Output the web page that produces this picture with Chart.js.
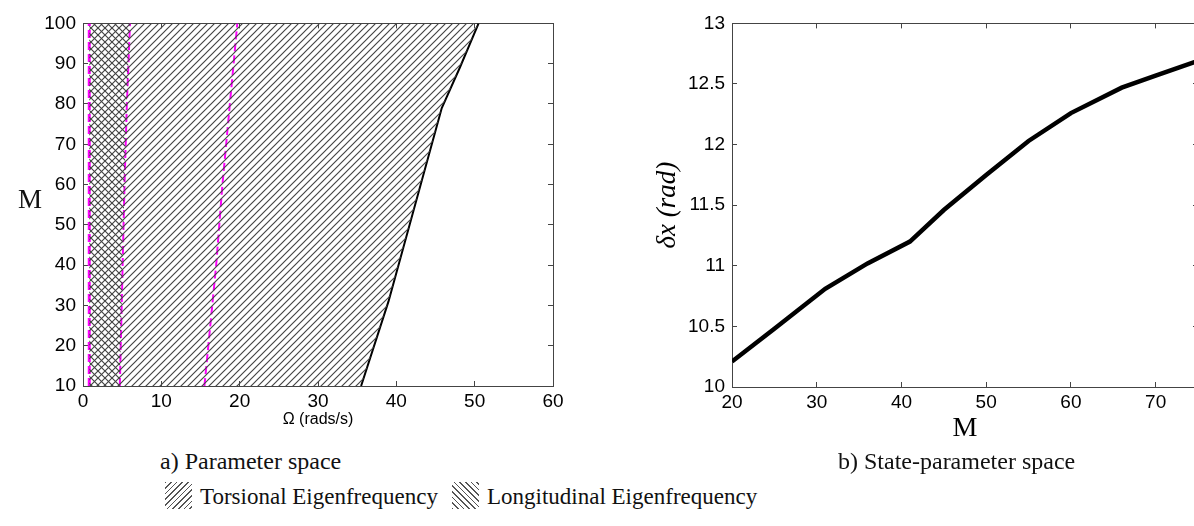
<!DOCTYPE html>
<html>
<head>
<meta charset="utf-8">
<script src="https://cdn.jsdelivr.net/npm/chart.js@4/dist/chart.umd.min.js"></script>
<style>
  html, body { margin: 0; padding: 0; background: #fff; }
  body { width: 1194px; height: 526px; overflow: hidden; position: relative; }
  canvas { position: absolute; top: 0; }
  #chartA { left: 0; }
  #chartB { left: 600px; }
  .txt { position: absolute; white-space: nowrap; color: #111; font-family: "Liberation Serif", "DejaVu Serif", serif; line-height: 1; }
  .swatch { position: absolute; width: 27px; height: 27px; }
  .tors { background: repeating-linear-gradient(135deg, #555 0 1px, #fff 1px 4px); }
  .long { background: repeating-linear-gradient(45deg, #555 0 1px, #fff 1px 4px); }
</style>
</head>
<body>
<canvas id="chartA" width="575" height="440"></canvas>
<canvas id="chartB" width="612" height="450"></canvas>

<div class="txt" style="left:18px; top:186px; font-size:27px;">M</div>
<div class="txt" style="left:160px; top:449px; font-size:24px;">a) Parameter space</div>
<div class="txt" style="left:838px; top:449px; font-size:24px;">b) State-parameter space</div>
<div class="swatch tors" style="left:165px; top:482px;"></div>
<div class="txt" style="left:200px; top:485px; font-size:23px;">Torsional Eigenfrequency</div>
<div class="swatch long" style="left:452px; top:482px;"></div>
<div class="txt" style="left:487px; top:485px; font-size:23px;">Longitudinal Eigenfrequency</div>

<script>
// a) parameter space: Omega (rads/s) vs M
const line1Omega = [0.8, 0.8];
const line1M = [10, 100];
const line2Omega = [4.7, 5.3, 5.6, 6.0];
const line2M = [10, 60, 80, 100];
const line3Omega = [15.5, 17.0, 17.8, 19.7];
const line3M = [10, 40, 60, 100];
const boundOmega = [35.5, 39.0, 45.8, 48.1, 50.5];
const boundM = [10, 31, 79, 89, 100];

const omegaTicks = [0, 10, 20, 30, 40, 50, 60];
const mTicksA = [10, 20, 30, 40, 50, 60, 70, 80, 90, 100];

// b) state-parameter space
const stateM = [20, 25, 31, 36, 41, 45, 50, 55, 60, 66, 70, 75];
const stateDx = [10.21, 10.48, 10.81, 11.02, 11.20, 11.46, 11.75, 12.03, 12.26, 12.47, 12.57, 12.69];
const mTicksB = [20, 30, 40, 50, 60, 70];
const dxTicks = [10, 10.5, 11, 11.5, 12, 12.5, 13];

const sans = "'Liberation Sans', Arial, sans-serif";
const serif = "'Liberation Serif', 'DejaVu Serif', serif";
const axisGrey = "#444";

function pts(xs, ys) {
    return xs.map((x, i) => ({ x: x, y: ys[i] }));
}

function hatch(ctx, dir) {
    const s = 7;
    const tile = document.createElement("canvas");
    tile.width = s;
    tile.height = s;
    const g = tile.getContext("2d");
    g.strokeStyle = "#444";
    g.lineWidth = 1.15;
    g.beginPath();
    if (dir > 0) {
        g.moveTo(0, s); g.lineTo(s, 0);
        g.moveTo(-1, 1); g.lineTo(1, -1);
        g.moveTo(s - 1, s + 1); g.lineTo(s + 1, s - 1);
    } else {
        g.moveTo(0, 0); g.lineTo(s, s);
        g.moveTo(-1, s - 1); g.lineTo(1, s + 1);
        g.moveTo(s - 1, -1); g.lineTo(s + 1, 1);
    }
    g.stroke();
    return ctx.createPattern(tile, "repeat");
}

// inward tick marks, matlab style box
function boxAxis(pos, min, max, step, size, extra) {
    const horizontal = pos === "bottom" || pos === "top";
    const main = pos === "bottom" || pos === "left";
    return Object.assign({
        type: "linear",
        position: pos,
        min: min,
        max: max,
        ticks: {
            display: main,
            stepSize: step,
            includeBounds: false,
            color: "#000",
            font: { family: sans, size: 19 },
            padding: horizontal ? 9 : 12,
            callback: (v) => String(v),
        },
        grid: {
            drawOnChartArea: false,
            tickLength: -5,
            color: axisGrey,
            lineWidth: 1,
        },
        border: { display: true, color: axisGrey, width: 1 },
        afterFit: (scale) => {
            if (horizontal) scale.height = size;
            else scale.width = size;
        },
    }, extra || {});
}

function initParameterChart() {
    const canvas = document.getElementById("chartA");
    const ctx = canvas.getContext("2d");
    const slash = hatch(ctx, 1);
    const backslash = hatch(ctx, -1);

    const torsional = [...pts(line1Omega, line1M).reverse(), ...pts(boundOmega, boundM)];
    const longitudinal = [...pts(line1Omega, line1M).reverse(), ...pts(line2Omega, line2M)];

    new Chart(ctx, {
        type: "line",
        data: {
            datasets: [
                { label: "Torsional Eigenfrequency", data: torsional, fill: "shape", backgroundColor: slash, borderWidth: 0, pointRadius: 0 },
                { label: "Longitudinal Eigenfrequency", data: longitudinal, fill: "shape", backgroundColor: backslash, borderWidth: 0, pointRadius: 0 },
                { data: pts(boundOmega, boundM), borderColor: "#000", borderWidth: 2, pointRadius: 0, fill: false },
                { data: pts(line1Omega, line1M), borderColor: "#ff00ff", borderWidth: 3, borderDash: [8, 4], pointRadius: 0, fill: false },
                { data: pts(line2Omega, line2M), borderColor: "#ff00ff", borderWidth: 2, borderDash: [8, 4], pointRadius: 0, fill: false },
                { data: pts(line3Omega, line3M), borderColor: "#ff00ff", borderWidth: 2, borderDash: [8, 4], pointRadius: 0, fill: false },
            ],
        },
        options: {
            responsive: false,
            animation: false,
            layout: { padding: { top: 20, right: 22, left: 0, bottom: 0 } },
            plugins: { legend: { display: false }, tooltip: { enabled: false } },
            scales: {
                x: boxAxis("bottom", omegaTicks[0], omegaTicks[omegaTicks.length - 1], 10, 54, {
                    title: { display: true, text: "Ω (rads/s)", color: "#000", font: { family: sans, size: 16 }, padding: { top: 0, bottom: 11 } },
                }),
                y: boxAxis("left", mTicksA[0], mTicksA[mTicksA.length - 1], 10, 83),
                x2: boxAxis("top", omegaTicks[0], omegaTicks[omegaTicks.length - 1], 10, 0),
                y2: boxAxis("right", mTicksA[0], mTicksA[mTicksA.length - 1], 10, 0),
            },
        },
    });
}

function initStateChart() {
    const canvas = document.getElementById("chartB");
    const ctx = canvas.getContext("2d");

    new Chart(ctx, {
        type: "line",
        data: {
            datasets: [
                { data: pts(stateM, stateDx), borderColor: "#000", borderWidth: 4.5, pointRadius: 0, fill: false, tension: 0 },
            ],
        },
        options: {
            responsive: false,
            animation: false,
            layout: { padding: { top: 20, right: 14, left: 52, bottom: 0 } },
            plugins: { legend: { display: false }, tooltip: { enabled: false } },
            scales: {
                x: boxAxis("bottom", mTicksB[0], 75, 10, 63, {
                    title: { display: true, text: "M", color: "#000", font: { family: serif, size: 28 }, padding: { top: 0, bottom: 5 } },
                }),
                y: boxAxis("left", dxTicks[0], dxTicks[dxTicks.length - 1], 0.5, 80, {
                    title: { display: true, text: "δx (rad)", color: "#000", font: { family: serif, size: 27, style: "italic" }, padding: 0 },
                }),
                x2: boxAxis("top", mTicksB[0], 75, 10, 0),
                y2: boxAxis("right", dxTicks[0], dxTicks[dxTicks.length - 1], 0.5, 0),
            },
        },
    });
}

function start() {
    initParameterChart();
    initStateChart();
}

start();
</script>
</body>
</html>
